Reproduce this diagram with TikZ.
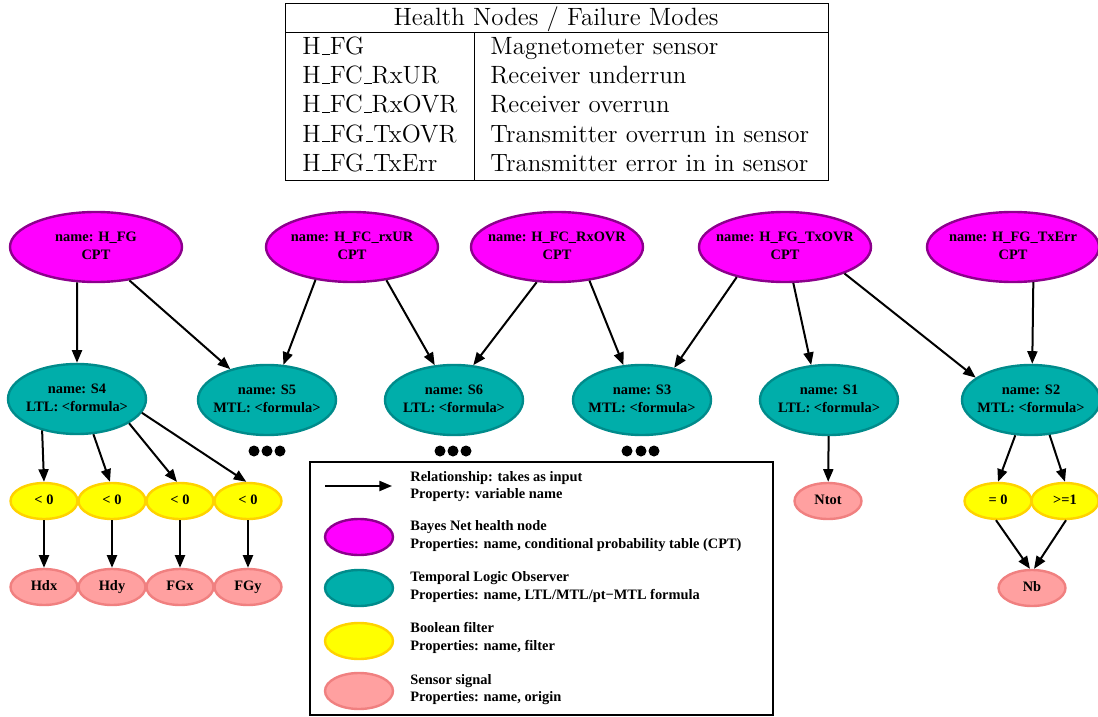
\documentclass[tikz,border=0pt]{standalone}
\usepackage{fontspec}
\newfontfamily\nf{Liberation Serif}
\usetikzlibrary{shapes.geometric,arrows.meta}
\definecolor{hfill}{RGB}{255,0,255}
\definecolor{hdraw}{RGB}{140,0,140}
\definecolor{tfill}{RGB}{0,174,170}
\definecolor{tdraw}{RGB}{0,139,139}
\definecolor{yfill}{RGB}{255,255,0}
\definecolor{ydraw}{RGB}{255,210,0}
\definecolor{sfill}{RGB}{255,160,160}
\definecolor{sdraw}{RGB}{240,128,128}
\newcommand\tbus{\leavevmode\kern.06em\vbox{\hrule width.3em}}
\newcommand\ntext[1]{\makebox[0pt]{\begin{tabular}{@{}c@{}}#1\end{tabular}}}
\begin{document}
\begin{tikzpicture}[x=0.5pt,y=-0.5pt,
  basenode/.style={ellipse, inner sep=0pt, line width=1.2pt,
    font=\nf\bfseries\fontsize{7.2}{9}\selectfont},
  hnode/.style={basenode, draw=hdraw, fill=hfill, minimum width=86pt, minimum height=35pt},
  tnode/.style={basenode, draw=tdraw, fill=tfill, minimum width=69pt, minimum height=35pt},
  fnode/.style={basenode, draw=ydraw, fill=yfill, minimum width=33.5pt, minimum height=18pt},
  snode/.style={basenode, draw=sdraw, fill=sfill, minimum width=33.5pt, minimum height=18pt},
  link/.style={-{Triangle[length=6.3pt,width=5pt]}, line width=1pt},
  tabtext/.style={font=\fontsize{12.5}{15}\selectfont, anchor=base west, inner sep=0pt},
  legtext/.style={font=\nf\bfseries\fontsize{7.2}{8.5}\selectfont, anchor=base west, inner sep=0pt}]
\useasboundingbox (0,0) rectangle (1098,717);

% ---- table ----
\draw[line width=0.5pt] (285,4) rectangle (828,181);
\draw[line width=0.5pt] (285,33) -- (828,33);
\draw[line width=0.5pt] (474,33) -- (474,181);
\node[tabtext, anchor=base] (th) at (556,26) {Health Nodes / Failure Modes};
\node[tabtext] (ta1) at (302,55) {H\tbus FG};
\node[tabtext] (tb1) at (490,55) {Magnetometer sensor};
\node[tabtext] (ta2) at (302,84) {H\tbus FC\tbus RxUR};
\node[tabtext] (tb2) at (490,84) {Receiver underrun};
\node[tabtext] (ta3) at (302,113) {H\tbus FC\tbus RxOVR};
\node[tabtext] (tb3) at (490,113) {Receiver overrun};
\node[tabtext] (ta4) at (302,142) {H\tbus FG\tbus TxOVR};
\node[tabtext] (tb4) at (490,142) {Transmitter overrun in sensor};
\node[tabtext] (ta5) at (302,171) {H\tbus FG\tbus TxErr};
\node[tabtext] (tb5) at (490,171) {Transmitter error in in sensor};

% ---- health nodes ----
\node[hnode] (hfg) at (96,247) {\ntext{name: H\_FG\\CPT}};
\node[hnode] (hur) at (352,247) {\ntext{name: H\_FC\_rxUR\\CPT}};
\node[hnode] (hrx) at (557,247) {\ntext{name: H\_FC\_RxOVR\\CPT}};
\node[hnode] (htx) at (785,247) {\ntext{name: H\_FG\_TxOVR\\CPT}};
\node[hnode] (her) at (1013,247) {\ntext{name: H\_FG\_TxErr\\CPT}};

% ---- observers ----
\node[tnode] (s4) at (77,399) {\ntext{name: S4\\LTL: <formula>}};
\node[tnode] (s5) at (267,400) {\ntext{name: S5\\MTL: <formula>}};
\node[tnode] (s6) at (454,400) {\ntext{name: S6\\LTL: <formula>}};
\node[tnode] (s3) at (642,400) {\ntext{name: S3\\MTL: <formula>}};
\node[tnode] (s1) at (829,400) {\ntext{name: S1\\LTL: <formula>}};
\node[tnode] (s2) at (1031,400) {\ntext{name: S2\\MTL: <formula>}};

% ---- filters ----
\node[fnode] (y1) at (44,501) {\ntext{< 0}};
\node[fnode] (y2) at (112,501) {\ntext{< 0}};
\node[fnode] (y3) at (180,501) {\ntext{< 0}};
\node[fnode] (y4) at (248,501) {\ntext{< 0}};
\node[fnode] (eq) at (998,501) {\ntext{= 0}};
\node[fnode] (ge) at (1065,501) {\ntext{>=1}};

% ---- signals ----
\node[snode] (hdx) at (44,587) {\ntext{Hdx}};
\node[snode] (hdy) at (112,587) {\ntext{Hdy}};
\node[snode] (fgx) at (180,587) {\ntext{FGx}};
\node[snode] (fgy) at (248,587) {\ntext{FGy}};
\node[snode] (ntot) at (828,501) {\ntext{Ntot}};
\node[snode] (nb) at (1032,588) {\ntext{Nb}};

% ---- dots ----
\foreach \x in {254,267,280,440,453,466,627,641,654}
  \fill (\x,451) circle (2.75pt);

% ---- edges ----
\draw[link] (hfg.-118) -- (s4.90);
\draw[link] (hfg.-45) -- (s5.140);
\draw[link] (hur.-138) -- (s5.65);
\draw[link] (hur.-44) -- (s6.119);
\draw[link] (hrx.-120) -- (s6.61);
\draw[link] (hrx.-46) -- (s3.118);
\draw[link] (htx.-148) -- (s3.45);
\draw[link] (htx.-77) -- (s1.117);
\draw[link] (htx.-24) -- (s2.158);
\draw[link] (her.-60) -- (s2.88);

\draw[link] (s4.-138) -- (y1.north);
\draw[link] (s4.-65) -- (y2.96);
\draw[link] (s4.-25) -- (y3.99);
\draw[link] (s4.-12) -- (y4.95);
\draw[link] (y1) -- (hdx);
\draw[link] (y2) -- (hdy);
\draw[link] (y3) -- (fgx);
\draw[link] (y4) -- (fgy);

\draw[link] (s1) -- (ntot);
\draw[link] (s2.-114) -- (eq.north);
\draw[link] (s2.-62) -- (ge.north);
\draw[link] (eq.-96) -- (nb.96);
\draw[link] (ge.-87) -- (nb.84);

% ---- legend ----
\draw[line width=0.75pt] (310,462) rectangle (773,715);
\coordinate (la) at (325,486);
\coordinate (lb) at (392,486);
\draw[link] (la) -- (lb);
\node[legtext] (l1a) at (410,481) {Relationship: takes as input};
\node[legtext] (l1b) at (410,498) {Property: variable name};
\node[hnode, minimum width=34pt, minimum height=18pt] (lh) at (359,537) {};
\node[legtext] (l2a) at (410,530) {Bayes Net health node};
\node[legtext] (l2b) at (410,548) {Properties: name, conditional probability table (CPT)};
\node[tnode, minimum width=34pt, minimum height=18pt] (lt) at (359,588) {};
\node[legtext] (l3a) at (410,581) {Temporal Logic Observer};
\node[legtext] (l3b) at (410,599) {Properties: name, LTL/MTL/pt−MTL formula};
\node[fnode, minimum width=34pt] (lf) at (359,641) {};
\node[legtext] (l4a) at (410,632) {Boolean filter};
\node[legtext] (l4b) at (410,650) {Properties: name, filter};
\node[snode, minimum width=34pt] (ls) at (359,691) {};
\node[legtext] (l5a) at (410,684) {Sensor signal};
\node[legtext] (l5b) at (410,701) {Properties: name, origin};
\end{tikzpicture}
\end{document}
